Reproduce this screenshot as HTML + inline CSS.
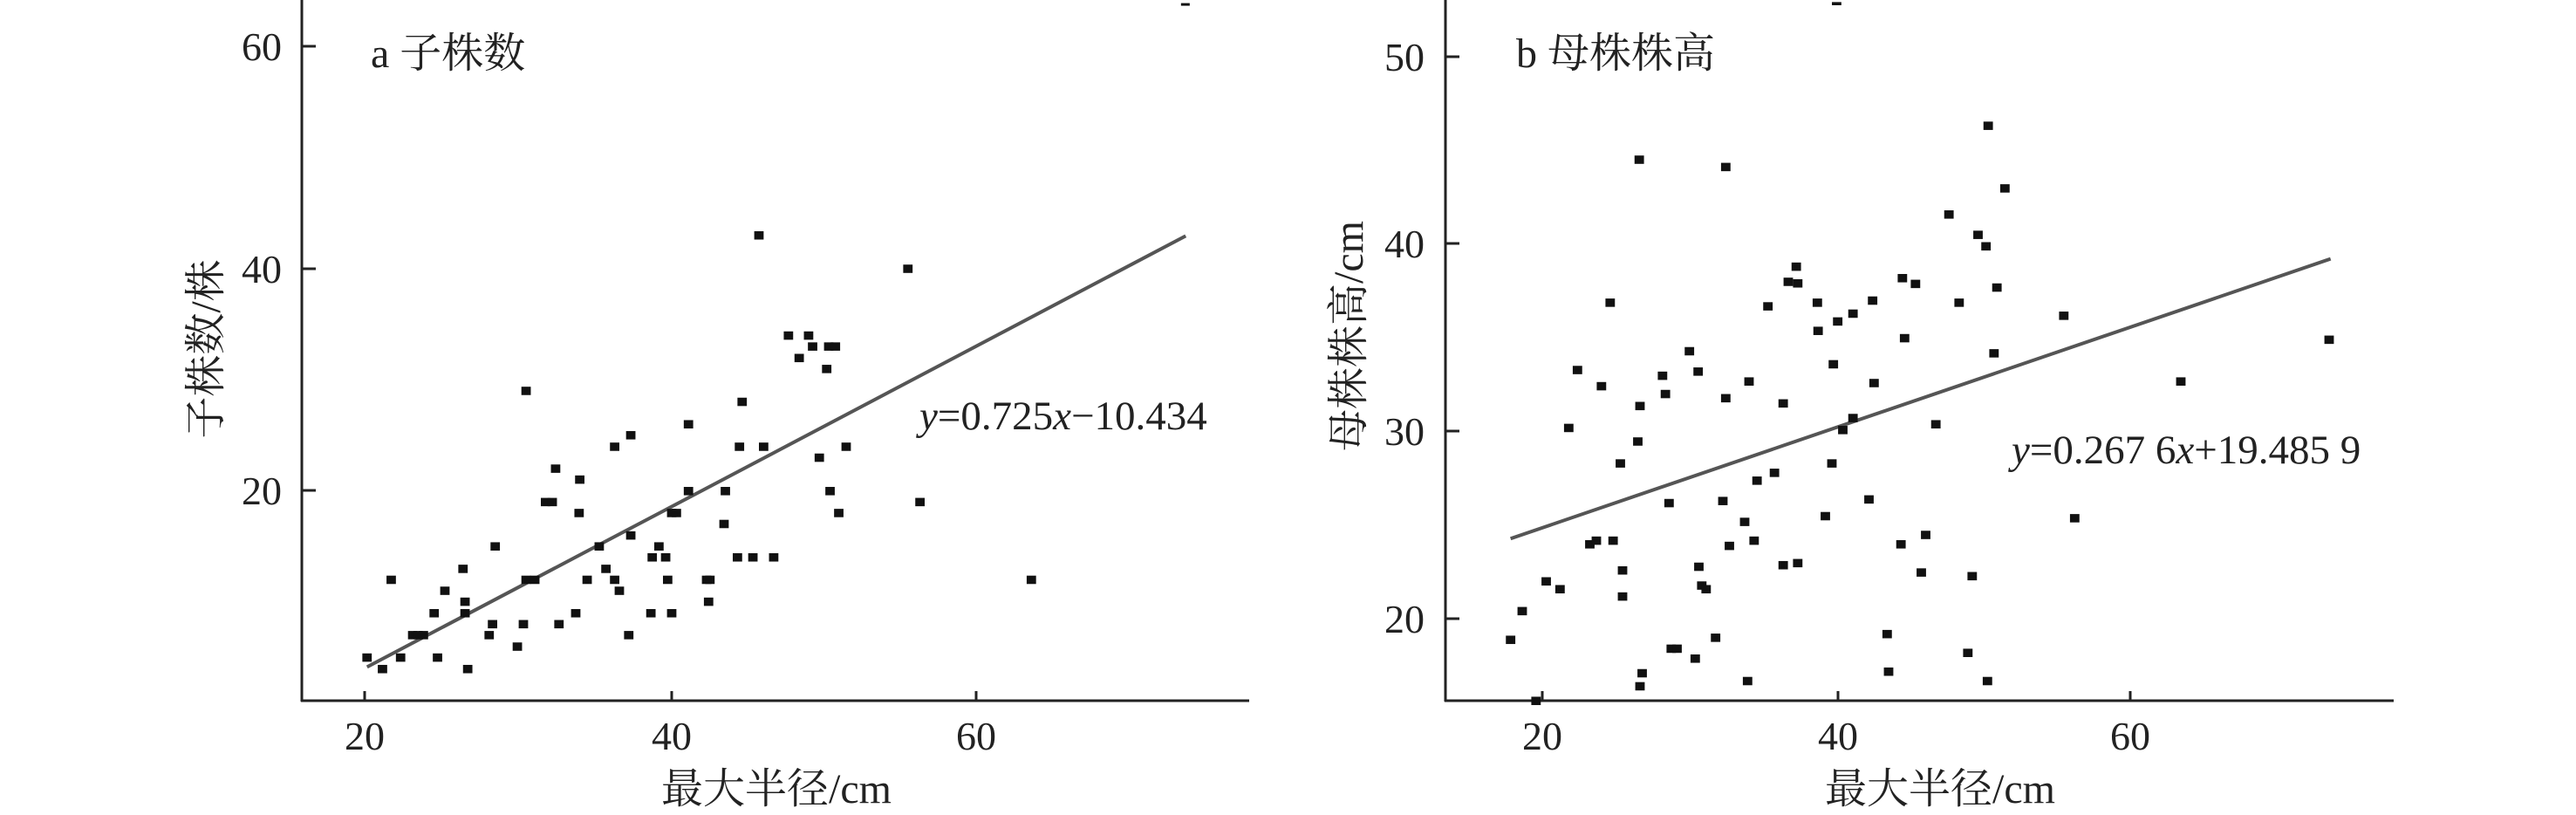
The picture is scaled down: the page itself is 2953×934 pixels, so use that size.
<!DOCTYPE html>
<html><head><meta charset="utf-8"><style>
html,body{margin:0;padding:0;background:#fff;}
svg{display:block;}
text{font-family:"Liberation Serif","Noto Serif CJK SC",serif;fill:#222;}
</style></head><body>
<svg width="2953" height="934" viewBox="0 0 2953 934" xmlns="http://www.w3.org/2000/svg">
<rect width="2953" height="934" fill="#fff"/>
<g stroke="#222" stroke-width="3" fill="none">
<line x1="346" y1="0" x2="346" y2="804"/>
<line x1="345" y1="803" x2="1432" y2="803"/>
<line x1="346" y1="53" x2="362" y2="53"/>
<line x1="346" y1="308" x2="362" y2="308"/>
<line x1="346" y1="562" x2="362" y2="562"/>
<line x1="418" y1="803" x2="418" y2="792"/>
<line x1="770" y1="803" x2="770" y2="792"/>
<line x1="1119" y1="803" x2="1119" y2="792"/>
</g>
<g font-size="46" text-anchor="end">
<text x="323" y="69">60</text><text x="323" y="324">40</text><text x="323" y="578">20</text>
</g>
<g font-size="46" text-anchor="middle">
<text x="418" y="859">20</text><text x="770" y="859">40</text><text x="1119" y="859">60</text>
</g>
<text x="890" y="920" font-size="48" text-anchor="middle">最大半径/cm</text>
<text x="425" y="77" font-size="48">a 子株数</text>
<text transform="translate(252,400) rotate(-90)" font-size="48" text-anchor="middle">子株数/株</text>
<text x="1054" y="492" font-size="47"><tspan font-style="italic">y</tspan>=0.725<tspan font-style="italic">x</tspan>−10.434</text>

<g transform="translate(250,0) scale(0.76923,0.59809)">
<line x1="222" y1="1278" x2="1442" y2="452" stroke="#555" stroke-width="4" vector-effect="non-scaling-stroke"/>
<rect x="1435" y="6" width="13" height="5" fill="#111"/>
<g fill="#111" id="pa"></g>
</g>

<g stroke="#222" stroke-width="3" fill="none">
<line x1="1657" y1="0" x2="1657" y2="804"/>
<line x1="1656" y1="803" x2="2744" y2="803"/>
<line x1="1657" y1="65" x2="1673" y2="65"/>
<line x1="1657" y1="279" x2="1673" y2="279"/>
<line x1="1657" y1="494" x2="1673" y2="494"/>
<line x1="1657" y1="709" x2="1673" y2="709"/>
<line x1="1768" y1="803" x2="1768" y2="792"/>
<line x1="2107" y1="803" x2="2107" y2="792"/>
<line x1="2442" y1="803" x2="2442" y2="792"/>
</g>
<g font-size="46" text-anchor="end">
<text x="1633" y="81">50</text><text x="1633" y="295">40</text><text x="1633" y="510">30</text><text x="1633" y="725">20</text>
</g>
<g font-size="46" text-anchor="middle">
<text x="1768" y="859">20</text><text x="2107" y="859">40</text><text x="2442" y="859">60</text>
</g>
<text x="2224" y="920" font-size="48" text-anchor="middle">最大半径/cm</text>
<text x="1738" y="77" font-size="48">b 母株株高</text>
<text transform="translate(1562,385) rotate(-90)" font-size="48" text-anchor="middle">母株株高/cm</text>
<text x="2306" y="531" font-size="47"><tspan font-style="italic">y</tspan>=0.267 6<tspan font-style="italic">x</tspan>+19.485 9</text>

<g transform="translate(1500,0) scale(0.83333,0.59809)">
<line x1="278" y1="1032" x2="1406" y2="496" stroke="#555" stroke-width="4" vector-effect="non-scaling-stroke"/>
<rect x="720" y="4" width="13" height="6" fill="#111"/>
<g fill="#111" id="pb"></g>
</g>
</svg>
<script>
var A=[[222,1260],[245,1282],[258,1111],[272,1260],[290,1217],[298,1217],[306,1217],[322,1175],[327,1260],[338,1132],[365,1090],[368,1153],[368,1175],[372,1282],[404,1217],[409,1196],[413,1047],[446,1239],[455,1196],[459,749],[459,1111],[472,1111],[488,962],[498,962],[503,898],[508,1196],[533,1175],[538,983],[539,919],[550,1111],[568,1047],[578,1090],[591,856],[591,1111],[598,1132],[612,1217],[615,834],[615,1026],[645,1175],[647,1068],[657,1047],[667,1068],[670,1111],[676,1175],[676,983],[683,983],[701,813],[701,941],[728,1111],[733,1111],[731,1153],[754,1004],[756,941],[774,1068],[777,856],[781,770],[797,1068],[806,451],[813,856],[828,1068],[850,643],[866,686],[880,643],[886,664],[896,877],[907,707],[910,664],[912,941],[920,664],[925,983],[936,856],[1028,515],[1046,962],[1212,1111]];
var B=[[278,1226],[294,1171],[313,1343],[327,1114],[346,1129],[358,820],[370,709],[387,1043],[396,1036],[403,740],[415,580],[419,1036],[429,888],[432,1093],[432,1143],[455,306],[456,778],[453,846],[459,1290],[456,1315],[487,720],[491,755],[496,964],[499,1243],[507,1243],[524,673],[532,1262],[536,712],[537,1086],[541,1122],[547,1129],[560,1222],[570,960],[574,320],[574,763],[579,1046],[600,1000],[604,1305],[606,731],[613,1036],[617,921],[632,587],[641,906],[653,1083],[653,773],[660,540],[671,511],[673,543],[673,1079],[700,580],[701,634],[711,989],[720,888],[722,698],[728,616],[735,824],[749,601],[749,801],[771,957],[776,576],[778,734],[796,1215],[798,1287],[815,1043],[817,533],[820,648],[835,544],[843,1097],[849,1025],[863,813],[881,411],[895,580],[907,1251],[913,1104],[921,450],[932,472],[935,241],[934,1305],[943,677],[947,551],[958,361],[1039,605],[1054,993],[1200,731],[1404,651]];
function draw(id,arr,w,h){var g=document.getElementById(id),s='';arr.forEach(function(p){s+='<rect x="'+(p[0]-w/2)+'" y="'+(p[1]-h/2)+'" width="'+w+'" height="'+h+'"/>';});g.innerHTML=s;}
draw('pa',A,14,16);draw('pb',B,13,16);
</script>
</body></html>
